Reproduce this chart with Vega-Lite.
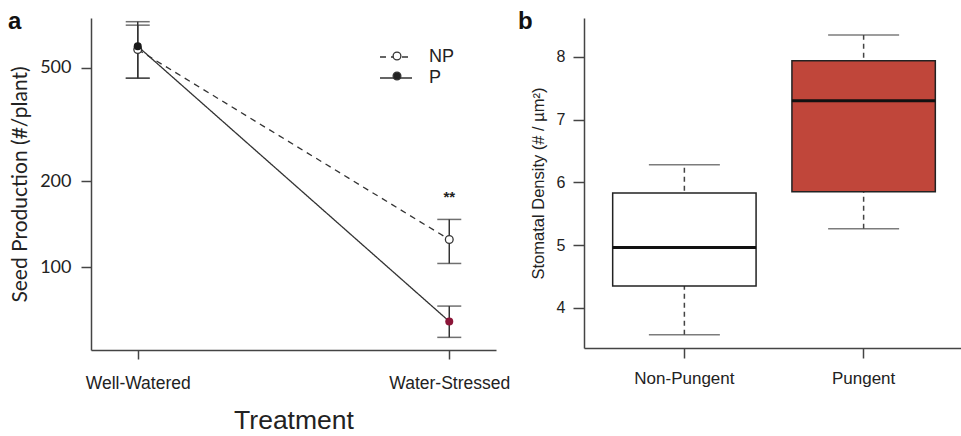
{
  "$schema": "https://vega.github.io/schema/vega-lite/v6.json",
  "background": "white",
  "padding": {"left": 8, "top": 10, "right": 0, "bottom": 0},
  "spacing": 8,
  "resolve": {"scale": {"fill": "independent", "color": "independent"}, "legend": {"fill": "independent", "color": "independent"}},
  "config": {
    "view": {"stroke": null},
    "font": "Liberation Sans",
    "axis": {"domainColor": "#444", "tickColor": "#444", "domainWidth": 1.5, "tickWidth": 1.5, "labelColor": "#222", "titleColor": "#222", "grid": false, "labelFont": "Liberation Sans", "titleFont": "Liberation Sans", "titleFontWeight": "normal"}
  },
  "datasets": {
    "seed": [
      {"treatment": "Well-Watered", "group": "NP", "mean": 580, "lo": 460, "hi": 726, "sig": ""},
      {"treatment": "Water-Stressed", "group": "NP", "mean": 125, "lo": 103, "hi": 147, "sig": "**"},
      {"treatment": "Well-Watered", "group": "P", "mean": 595, "lo": 460, "hi": 706, "sig": ""},
      {"treatment": "Water-Stressed", "group": "P", "mean": 64.5, "lo": 56.7, "hi": 73, "sig": ""}
    ],
    "stomata": [
      {"type": "Non-Pungent", "low": 3.57, "q1": 4.35, "median": 4.96, "q3": 5.83, "high": 6.28},
      {"type": "Pungent", "low": 5.26, "q1": 5.85, "median": 7.3, "q3": 7.94, "high": 8.35}
    ]
  },
  "hconcat": [
    {
      "width": 405,
      "height": 332,
      "title": {"text": "a", "anchor": "start", "frame": "group", "dx": -83, "dy": 35, "offset": 0, "baseline": "alphabetic", "fontSize": 24, "fontWeight": "bold", "font": "Liberation Sans", "color": "#111"},
      "data": {"name": "seed"},
      "encoding": {
        "x": {"field": "treatment", "type": "nominal", "sort": ["Well-Watered", "Water-Stressed"],
          "scale": {"type": "point", "padding": 0.15},
          "axis": {"title": "Treatment", "labelAngle": 0, "labelFontSize": 17.5, "tickSize": 9, "labelPadding": 15, "titleFontSize": 26.5, "titlePadding": 16}}
      },
      "layer": [
        {
          "mark": {"type": "line", "color": "#333", "strokeWidth": 1.3},
          "encoding": {
            "y": {"field": "mean", "type": "quantitative",
              "scale": {"type": "log", "domain": [51.2, 748], "nice": false, "zero": false},
              "axis": {"title": "Seed Production (#/plant)", "values": [100, 200, 500], "labelFontSize": 18, "labelFont": "Lato", "titleFont": "Lato", "titleFontSize": 21, "tickSize": 10, "labelPadding": 10, "titlePadding": 9}},
            "strokeDash": {"field": "group", "type": "nominal",
              "scale": {"domain": ["NP", "P"], "range": [[6, 5], [1, 0]]},
              "legend": {"title": null, "orient": "none", "legendX": 294, "legendY": 28, "symbolType": "M-1.6,0H1.6", "symbolSize": 400, "symbolStrokeColor": "#333", "symbolStrokeWidth": 1.3, "labelFontSize": 18, "labelOffset": 22, "rowPadding": 1, "labelColor": "#222", "padding": 0}}
          }
        },
        {
          "mark": {"type": "rule", "color": "#333", "strokeWidth": 1.5},
          "encoding": {"y": {"field": "lo", "type": "quantitative"}, "y2": {"field": "hi"}}
        },
        {
          "mark": {"type": "tick", "color": "#333", "thickness": 1.5, "size": 24},
          "encoding": {"y": {"field": "lo", "type": "quantitative"}}
        },
        {
          "mark": {"type": "tick", "color": "#333", "thickness": 1.5, "size": 24},
          "encoding": {"y": {"field": "hi", "type": "quantitative"}}
        },
        {
          "transform": [{"filter": "datum.group == 'NP'"}],
          "mark": {"type": "point", "filled": true, "size": 60, "strokeWidth": 1.3, "stroke": "#333", "opacity": 1},
          "encoding": {
            "y": {"field": "mean", "type": "quantitative"},
            "fill": {"field": "group", "type": "nominal",
              "scale": {"domain": ["NP", "P"], "range": ["white", "#222"]},
              "legend": {"title": null, "orient": "none", "legendX": 297, "legendY": 29, "symbolType": "circle", "symbolSize": 60, "symbolStrokeWidth": 1.3, "symbolStrokeColor": "#333", "symbolOpacity": 1, "labelFontSize": 18, "labelExpr": "''", "rowPadding": 2, "padding": 0}}
          }
        },
        {
          "transform": [{"filter": "datum.group == 'P'"}],
          "mark": {"type": "point", "filled": true, "size": 64, "opacity": 1},
          "encoding": {
            "y": {"field": "mean", "type": "quantitative"},
            "color": {"condition": {"test": "datum.treatment == 'Water-Stressed'", "value": "#8b1538"}, "value": "#1a1a1a"}
          }
        },
        {
          "transform": [{"filter": "datum.sig != ''"}],
          "mark": {"type": "text", "dy": -22, "fontSize": 15, "fontWeight": "bold", "color": "#222"},
          "encoding": {"y": {"field": "hi", "type": "quantitative"}, "text": {"field": "sig"}}
        }
      ],
      "resolve": {"legend": {"strokeDash": "independent", "fill": "independent"}}
    },
    {
      "width": 380,
      "height": 330,
      "title": {"text": "b", "anchor": "start", "frame": "group", "dx": -66, "dy": 35, "offset": 0, "baseline": "alphabetic", "fontSize": 24, "fontWeight": "bold", "font": "Liberation Sans", "color": "#111"},
      "data": {"name": "stomata"},
      "encoding": {
        "x": {"field": "type", "type": "nominal",
          "scale": {"type": "band", "paddingInner": 0.2, "paddingOuter": 0.16},
          "axis": {"title": null, "labelAngle": 0, "labelFontSize": 17, "tickSize": 10, "labelPadding": 12}}
      },
      "layer": [
        {
          "mark": {"type": "rule", "color": "#444", "strokeWidth": 1.5, "strokeDash": [5, 4]},
          "encoding": {
            "y": {"field": "low", "type": "quantitative",
              "scale": {"domain": [3.36, 8.62], "nice": false, "zero": false},
              "axis": {"title": "Stomatal Density (# / µm²)", "values": [4, 5, 6, 7, 8], "format": "d", "labelFontSize": 16, "titleFontSize": 16.5, "tickSize": 11, "labelPadding": 8, "titlePadding": 10}},
            "y2": {"field": "high"}
          }
        },
        {
          "mark": {"type": "tick", "color": "#444", "thickness": 1.5, "size": 71},
          "encoding": {"y": {"field": "low", "type": "quantitative"}}
        },
        {
          "mark": {"type": "tick", "color": "#444", "thickness": 1.5, "size": 71},
          "encoding": {"y": {"field": "high", "type": "quantitative"}}
        },
        {
          "mark": {"type": "bar", "stroke": "#222", "strokeWidth": 1.5, "opacity": 1},
          "encoding": {
            "y": {"field": "q1", "type": "quantitative"},
            "y2": {"field": "q3"},
            "fill": {"field": "type", "type": "nominal", "scale": {"domain": ["Non-Pungent", "Pungent"], "range": ["white", "#c0463a"]}, "legend": null}
          }
        },
        {
          "mark": {"type": "bar", "stroke": "#111", "strokeWidth": 3, "fill": null},
          "encoding": {"y": {"field": "median", "type": "quantitative"}, "y2": {"field": "median"}}
        }
      ]
    }
  ]
}
